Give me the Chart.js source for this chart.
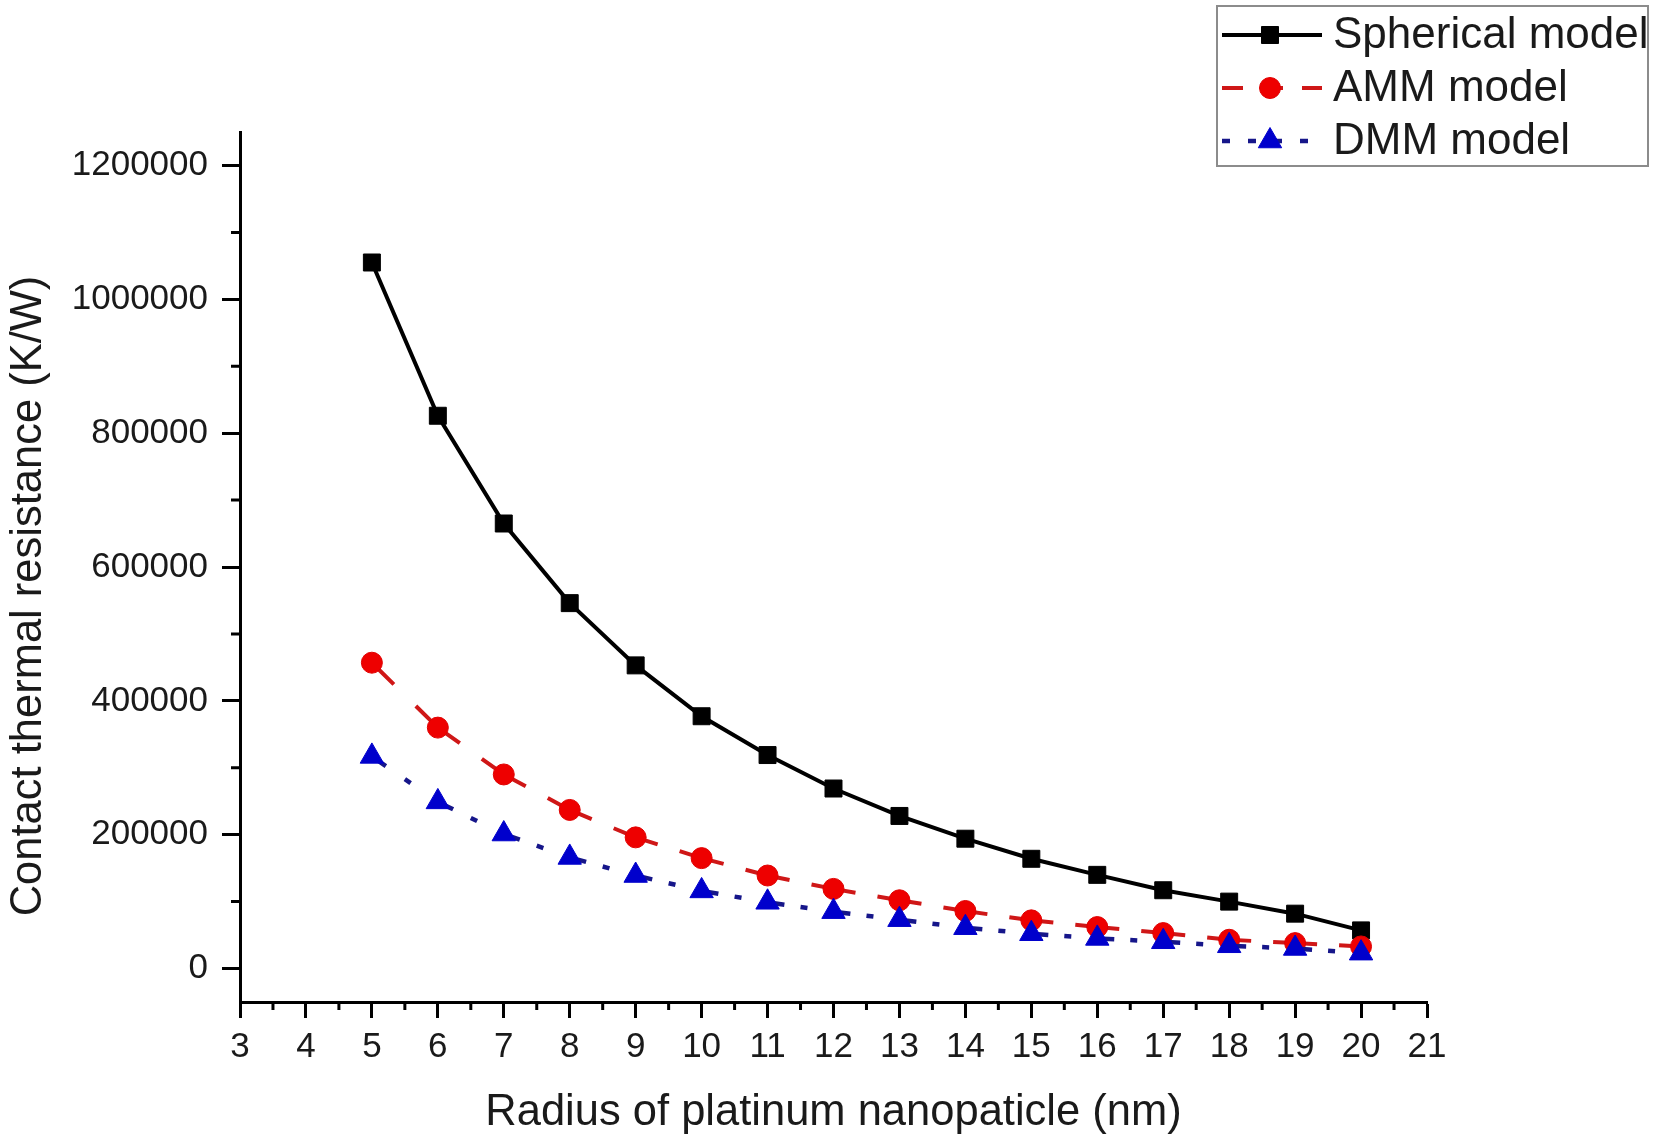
<!DOCTYPE html>
<html>
<head>
<meta charset="utf-8">
<script src="https://cdn.jsdelivr.net/npm/chart.js@4.4.0/dist/chart.umd.min.js"></script>
<style>
html,body{margin:0;padding:0;background:#fff;}
#wrap{width:1654px;height:1146px;position:relative;}
</style>
</head>
<body>
<div id="wrap"><canvas id="c" width="1654" height="1146"></canvas></div>
<script>
// ---- data ----
const radius = [5,6,7,8,9,10,11,12,13,14,15,16,17,18,19,20];
const sphericalModel = [1055000,826000,665000,546000,453000,377000,319000,269000,228000,194000,164000,140000,117000,100000,82000,57000];
const ammModel = [457000,360000,290000,237000,196000,165000,139000,119000,102000,86000,72000,62000,53000,43000,38000,33000];
const dmmModel = [317000,249000,201000,166000,139000,116000,99000,85000,73000,61000,52000,45000,40000,34000,30000,23000];
const seriesNames = ['Spherical model','AMM model','DMM model'];
const xAxisTitle = 'Radius of platinum nanopaticle (nm)';
const yAxisTitle = 'Contact thermal resistance (K/W)';
const xTickValues = [3,4,5,6,7,8,9,10,11,12,13,14,15,16,17,18,19,20,21];
const yTickValues = [0,200000,400000,600000,800000,1000000,1200000];
const xRange = [3, 21];
const yRange = [-50000, 1250000];

const FONT = "'Liberation Sans', Arial, Helvetica, sans-serif";
const TEXT = '#1a1a1a';

function pts(ys){ return radius.map((x,i)=>({x:x, y:ys[i]})); }
function segLen(c){ return Math.hypot(c.p1.x-c.p0.x, c.p1.y-c.p0.y); }

const datasets = [
  {
    label: seriesNames[0], data: pts(sphericalModel),
    borderColor:'#000', backgroundColor:'#000', borderWidth:4,
    pointStyle:'rect', pointRadius:12, pointBorderWidth:1,
    pointBackgroundColor:'#000', pointBorderColor:'#000',
    tension:0, order:3
  },
  {
    label: seriesNames[1], data: pts(ammModel),
    borderColor:'#cf1717', backgroundColor:'#ee0000', borderWidth:4,
    pointStyle:'circle', pointRadius:10.5, pointBorderWidth:1,
    pointBackgroundColor:'#ee0000', pointBorderColor:'#e00000',
    tension:0, order:2,
    segment:{ borderDash: c => { const L = segLen(c); return [L/3, L/3]; } }
  },
  {
    label: seriesNames[2], data: pts(dmmModel),
    borderColor:'#16168a', backgroundColor:'#0000cc', borderWidth:4.5,
    pointStyle:'triangle', pointRadius:13.5, pointBorderWidth:1,
    pointBackgroundColor:'#0000cc', pointBorderColor:'#0000cc',
    tension:0, order:1,
    segment:{ borderDash: c => { const L = segLen(c); return [17, Math.max(L/2-17,1), 7, L]; } }
  }
];

const minorTicks = {
  id:'minorTicks',
  afterDraw(chart){
    const ctx = chart.ctx;
    const xs = chart.scales.x, ys = chart.scales.y;
    ctx.save();
    ctx.strokeStyle = '#000';
    ctx.lineWidth = 3;
    ctx.beginPath();
    const yt = ys.ticks.map(t=>t.value);
    for (let i=0;i<yt.length-1;i++){
      const p = ys.getPixelForValue((yt[i]+yt[i+1])/2);
      ctx.moveTo(ys.right-9, p); ctx.lineTo(ys.right, p);
    }
    const xt = xs.ticks.map(t=>t.value);
    for (let i=0;i<xt.length-1;i++){
      const p = xs.getPixelForValue((xt[i]+xt[i+1])/2);
      ctx.moveTo(p, xs.top); ctx.lineTo(p, xs.top+8);
    }
    ctx.stroke();
    ctx.restore();
  }
};

// y-axis title, placed a little below the axis centre as in the original figure
const yTitle = {
  id:'yTitle',
  afterDraw(chart){
    const ctx = chart.ctx;
    const ys = chart.scales.y;
    ctx.save();
    ctx.translate(ys.left + 29, (ys.top + ys.bottom)/2 + 29);
    ctx.rotate(-Math.PI/2);
    ctx.fillStyle = TEXT;
    ctx.font = '43.5px ' + FONT;
    ctx.textAlign = 'center';
    ctx.textBaseline = 'middle';
    ctx.fillText(yAxisTitle, 0, 0);
    ctx.restore();
  }
};

const boxLegend = {
  id:'boxLegend',
  afterDraw(chart){
    const ctx = chart.ctx;
    ctx.save();
    ctx.strokeStyle = '#8c8c8c';
    ctx.lineWidth = 2;
    ctx.strokeRect(1217, 6, 431, 160);
    const rowsY = [35, 88, 141];
    const dashes = [[], [21,19], [8,18]];
    chart.data.datasets.forEach((ds, i) => {
      const y = rowsY[i];
      ctx.save();
      ctx.strokeStyle = ds.borderColor;
      ctx.lineWidth = ds.borderWidth;
      ctx.setLineDash(dashes[i]);
      ctx.beginPath(); ctx.moveTo(1222, y); ctx.lineTo(1322, y); ctx.stroke();
      ctx.setLineDash([]);
      ctx.fillStyle = ds.pointBackgroundColor;
      ctx.strokeStyle = ds.pointBorderColor;
      ctx.lineWidth = ds.pointBorderWidth;
      Chart.helpers.drawPoint(ctx, {pointStyle: ds.pointStyle, radius: ds.pointRadius, borderWidth: ds.pointBorderWidth, rotation:0}, 1270, y);
      ctx.restore();
      ctx.fillStyle = TEXT;
      ctx.font = '44px ' + FONT;
      ctx.textBaseline = 'middle';
      ctx.textAlign = 'left';
      ctx.fillText(ds.label, 1333, y+1);
    });
    ctx.restore();
  }
};

new Chart(document.getElementById('c'), {
  type:'line',
  data:{ datasets },
  options:{
    responsive:false,
    animation:false,
    devicePixelRatio:1,
    layout:{ padding:{ top:132, right:227, left:0, bottom:0 } },
    plugins:{ legend:{display:false}, tooltip:{enabled:false} },
    scales:{
      x:{
        type:'linear', min:xRange[0], max:xRange[1], bounds:'data',
        afterBuildTicks: s => { s.ticks = xTickValues.map(v => ({value:v})); },
        ticks:{ autoSkip:false, maxRotation:0,
                font:{family:FONT, size:35}, color:TEXT, padding:8,
                callback: v => String(v) },
        grid:{ drawOnChartArea:false, drawTicks:true, tickLength:16, tickWidth:3, tickColor:'#000' },
        border:{ display:true, color:'#000', width:3 },
        title:{ display:true, text:xAxisTitle, color:TEXT, font:{family:FONT, size:43.5}, padding:{top:0, bottom:7} },
        afterFit: s => { s.height = 144; }
      },
      y:{
        type:'linear', min:yRange[0], max:yRange[1], bounds:'data',
        afterBuildTicks: s => { s.ticks = yTickValues.map(v => ({value:v})); },
        ticks:{ autoSkip:false,
                font:{family:FONT, size:35}, color:TEXT, padding:14,
                callback: v => String(v) },
        grid:{ drawOnChartArea:false, drawTicks:true, tickLength:18, tickWidth:3, tickColor:'#000' },
        border:{ display:true, color:'#000', width:3 },
        title:{ display:false, text:yAxisTitle },
        afterFit: s => { s.width = 240; }
      }
    }
  },
  plugins:[minorTicks, yTitle, boxLegend]
});
</script>
</body>
</html>
